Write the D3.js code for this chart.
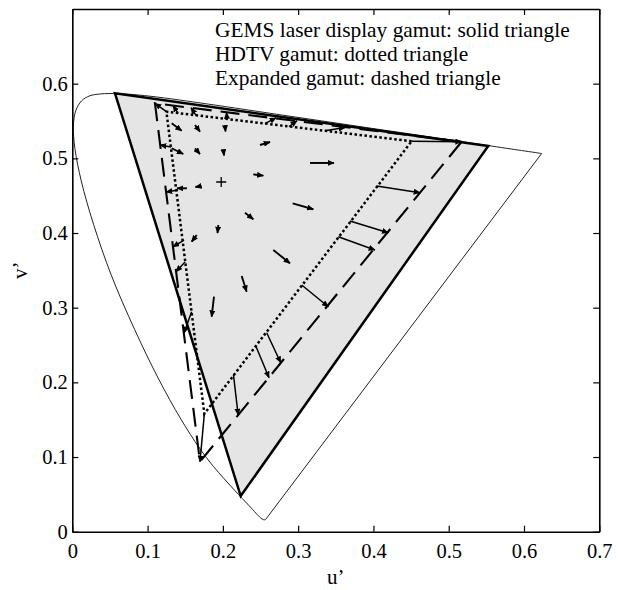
<!DOCTYPE html>
<html><head><meta charset="utf-8">
<script src="https://cdn.jsdelivr.net/npm/d3@7"></script>
<style>body{margin:0;background:#fff}</style>
</head><body>
<svg id="c" width="621" height="590"></svg>
<script>
// CIE 1976 u'v' spectral locus (380-700 nm)
const locusNm = [380,400,420,440,450,460,465,470,475,480,485,490,495,500,505,510,515,520,525,530,540,550,560,570,580,590,600,610,620,630,640,650,660,680,700];
const locusU = [0.2569,0.2558,0.2522,0.2347,0.2161,0.1877,0.1690,0.1441,0.1147,0.0828,0.0521,0.0282,0.0119,0.0035,0.0014,0.0046,0.0123,0.0231,0.0360,0.0501,0.0792,0.1127,0.1531,0.2026,0.2623,0.3315,0.4035,0.4692,0.5203,0.5565,0.5830,0.6005,0.6109,0.6199,0.6234];
const locusV = [0.0165,0.0159,0.0169,0.0350,0.0549,0.0871,0.1119,0.1510,0.2044,0.2708,0.3427,0.4117,0.4698,0.5131,0.5432,0.5638,0.5770,0.5837,0.5861,0.5868,0.5856,0.5821,0.5766,0.5694,0.5604,0.5501,0.5393,0.5296,0.5219,0.5165,0.5125,0.5099,0.5084,0.5070,0.5065];

// gamut triangles (R, G, B) in u'v'
const gemsU = [0.5525, 0.0567, 0.2237];
const gemsV = [0.5165, 0.5871, 0.0478];
const hdtvU = [0.4507, 0.1250, 0.1754];
const hdtvV = [0.5229, 0.5625, 0.1579];
const expU  = [0.5172, 0.1098, 0.1696];
const expV  = [0.5223, 0.5737, 0.0937];

// white point
const whiteU = [0.1978];
const whiteV = [0.4683];

// mapping arrows: start (u0,v0) -> end (u1,v1)
const arrowU0 = [0.3157,0.2927,0.2493,0.2404,0.2294,0.1939,0.1709,0.1523,0.1630,0.1630,0.1320,0.1320,0.2028,0.2006,0.2670,0.2250,0.1882,0.1652,
                 0.4507,0.4043,0.3688,0.3533,0.3047,0.2582,0.2436,0.2141,0.1754,0.1250,
                 0.1311,0.1404,0.1484,0.1501,0.1585,
                 0.1404,0.1643,0.2055,0.2559,0.2878,0.3356];
const arrowV0 = [0.4938,0.4398,0.5179,0.4786,0.4272,0.4107,0.4630,0.4599,0.5447,0.5135,0.5469,0.5135,0.5440,0.5112,0.3773,0.3424,0.3147,0.3973,
                 0.5229,0.4630,0.4161,0.3951,0.3304,0.2665,0.2491,0.2099,0.1579,0.5625,
                 0.5152,0.4576,0.3906,0.3616,0.2946,
                 0.5606,0.5577,0.5527,0.5465,0.5426,0.5368];
const arrowU1 = [0.3476,0.3201,0.2626,0.2537,0.2404,0.1929,0.1636,0.1391,0.1696,0.1696,0.1453,0.1474,0.2035,0.2015,0.2891,0.2316,0.1851,0.1586,
                 0.5172,0.4618,0.4197,0.4020,0.3400,0.2768,0.2613,0.2203,0.1696,0.1098,
                 0.1165,0.1245,0.1337,0.1377,0.1484,
                 0.1337,0.1577,0.2048,0.2706,0.2984,0.3622];
const arrowV1 = [0.4938,0.4318,0.5219,0.4768,0.4184,0.4000,0.4616,0.4599,0.5357,0.5058,0.5370,0.5058,0.5360,0.5038,0.3594,0.3214,0.2879,0.3884,
                 0.5223,0.4540,0.4004,0.3773,0.3013,0.2263,0.2062,0.1563,0.0937,0.5737,
                 0.5179,0.4549,0.3813,0.3482,0.2661,
                 0.5706,0.5677,0.5614,0.5543,0.5503,0.5413];

const xTicks = [0,0.1,0.2,0.3,0.4,0.5,0.6,0.7];
const xTickLabels = ["0","0.1","0.2","0.3","0.4","0.5","0.6","0.7"];
const yTicks = [0,0.1,0.2,0.3,0.4,0.5,0.6];
const yTickLabels = ["0","0.1","0.2","0.3","0.4","0.5","0.6"];
const legendLines = ["GEMS laser display gamut: solid triangle","HDTV gamut: dotted triangle","Expanded gamut: dashed triangle"];

const FONT = '"Liberation Serif","Times New Roman",serif';
const L = 72.3, T = 9, R = 599.3, B = 531.7;
const svg = d3.select("#c");
const x = d3.scaleLinear().domain([0,0.7]).range([L,R]);
const y = d3.scaleLinear().domain([0,0.7]).range([B,T]);

const defs = svg.append("defs");
defs.append("marker").attr("id","ah").attr("viewBox","0 0 10 10").attr("refX",9).attr("refY",5)
  .attr("markerWidth",7).attr("markerHeight",6).attr("markerUnits","userSpaceOnUse")
  .attr("orient","auto").attr("preserveAspectRatio","none")
  .append("path").attr("d","M0,0L10,5L0,10Z").attr("fill","#000");

const tri = (U,V) => U.map((u,i)=>[x(u),y(V[i])]);
const triPath = pts => "M" + pts.map(p=>p.join(",")).join("L") + "Z";

// gray GEMS fill
svg.append("path").attr("d", triPath(tri(gemsU,gemsV))).attr("fill","#e5e5e5").attr("stroke","none");

// spectral locus
const locusPts = locusU.map((u,i)=>[x(u),y(locusV[i])]);
svg.append("path").attr("d", d3.line().curve(d3.curveCatmullRom)(locusPts) + "L" + locusPts[0].join(","))
  .attr("fill","none").attr("stroke","#222").attr("stroke-width",1);

// arrows
svg.append("g").selectAll("line").data(arrowU0.map((u,i)=>i)).join("line")
  .attr("x1",i=>x(arrowU0[i])).attr("y1",i=>y(arrowV0[i]))
  .attr("x2",i=>x(arrowU1[i])).attr("y2",i=>y(arrowV1[i]))
  .attr("stroke","#000").attr("stroke-width",i=>i<18?1.9:1.5).attr("marker-end","url(#ah)");

// triangles
svg.append("path").attr("d", triPath(tri(hdtvU,hdtvV))).attr("fill","none").attr("stroke","#000")
  .attr("stroke-width",2.5).attr("stroke-dasharray","2.5,2.5");
svg.append("path").attr("d", triPath(tri(expU,expV))).attr("fill","none").attr("stroke","#000")
  .attr("stroke-width",2.1).attr("stroke-dasharray","19,9");
svg.append("path").attr("d", triPath(tri(gemsU,gemsV))).attr("fill","none").attr("stroke","#000")
  .attr("stroke-width",2.5).attr("stroke-linejoin","miter");

// white point "+"
const wx = x(whiteU[0]), wy = y(whiteV[0]);
svg.append("path").attr("d",`M${wx-5},${wy}H${wx+5}M${wx},${wy-5}V${wy+5}`).attr("stroke","#000").attr("stroke-width",1.3);

// axes
function style(g){ g.selectAll("path.domain").attr("stroke","#000").attr("stroke-width",1.6);
  g.selectAll(".tick line").attr("stroke","#000").attr("stroke-width",1.2);
  g.selectAll("text").attr("font-family",FONT).attr("font-size",20.5).attr("fill","#000"); }
svg.append("g").attr("transform",`translate(0,${B})`)
  .call(d3.axisBottom(x).tickValues(xTicks).tickFormat((d,i)=>xTickLabels[i]).tickSize(-6).tickSizeOuter(0).tickPadding(12)).call(style);
svg.append("g").attr("transform",`translate(0,${T})`)
  .call(d3.axisTop(x).tickValues(xTicks).tickFormat("").tickSize(-6).tickSizeOuter(0)).call(style);
svg.append("g").attr("transform",`translate(${L},0)`)
  .call(d3.axisLeft(y).tickValues(yTicks).tickFormat((d,i)=>yTickLabels[i]).tickSize(-6).tickSizeOuter(0).tickPadding(4.5)).call(style);
svg.append("g").attr("transform",`translate(${R},0)`)
  .call(d3.axisRight(y).tickValues(yTicks).tickFormat("").tickSize(-6).tickSizeOuter(0)).call(style);

// axis labels
svg.append("text").attr("x",(L+R)/2).attr("y",584).attr("text-anchor","middle")
  .attr("font-family",FONT).attr("font-size",21).text("u’");
svg.append("text").attr("transform",`translate(27,${(T+B)/2}) rotate(-90)`).attr("text-anchor","middle")
  .attr("font-family",FONT).attr("font-size",21).text("v’");

// legend text
svg.append("g").selectAll("text").data(legendLines).join("text")
  .attr("x",215).attr("y",(d,i)=>37+i*24.2)
  .attr("font-family",FONT).attr("font-size",21.4).attr("fill","#000").text(d=>d);
</script>
</body></html>
